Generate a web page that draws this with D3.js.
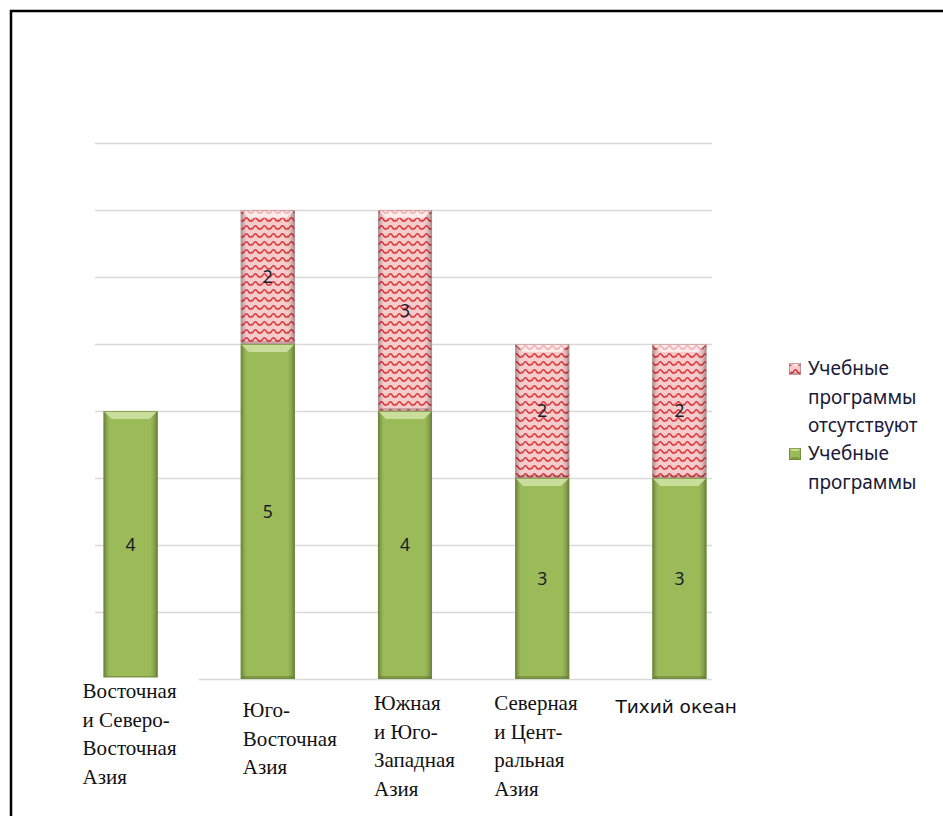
<!DOCTYPE html>
<html>
<head>
<meta charset="utf-8">
<script src="https://cdn.jsdelivr.net/npm/d3@7"></script>
<style>
  html, body { margin: 0; padding: 0; background: #fff; }
  svg { display: block; }
  .serif { font-family: "Liberation Serif", "DejaVu Serif", "Noto Serif", serif; }
  .sans-cat { font-family: "DejaVu Sans", Verdana, sans-serif; }
  .calib { font-family: "Noto Sans", "Open Sans", sans-serif; }
</style>
</head>
<body>
<script>
// Regions and the number of programmes per region
const categories = [
  "Восточная и Северо-Восточная Азия",
  "Юго-Восточная Азия",
  "Южная и Юго-Западная Азия",
  "Северная и Центральная Азия",
  "Тихий океан"
];
const categoryLines = [
  ["Восточная", "и Северо-", "Восточная", "Азия"],
  ["Юго-", "Восточная", "Азия"],
  ["Южная", "и Юго-", "Западная", "Азия"],
  ["Северная", "и Цент-", "ральная", "Азия"],
  ["Тихий океан"]
];
const withPrograms = [4, 5, 4, 3, 3];
const withoutPrograms = [0, 2, 3, 2, 2];
const legendLines = [["Учебные", "программы", "отсутствуют"], ["Учебные", "программы"]];
const yTicks = [0, 1, 2, 3, 4, 5, 6, 7, 8];

const W = 943, H = 816;
const svg = d3.select("body").append("svg").attr("width", W).attr("height", H);
const defs = svg.append("defs");

// Wavy red hatch for the "absent" series
const pat = defs.append("pattern")
  .attr("id", "wave").attr("patternUnits", "userSpaceOnUse")
  .attr("width", 9).attr("height", 8);
pat.append("rect").attr("width", 9).attr("height", 8).attr("fill", "#f4cccc");
pat.append("path")
  .attr("d", "M-0.5,5.2 C1.2,5.2 1.6,1.8 3.4,1.8 C5.2,1.8 5.6,5.2 7.4,5.2 C8.6,5.2 9,4.2 9.5,3.4")
  .attr("fill", "none").attr("stroke", "#de2d33").attr("stroke-width", 1.4);

// Bevel shading across the bar width
const sideGrad = defs.append("linearGradient").attr("id", "side")
  .attr("x1", 0).attr("x2", 1).attr("y1", 0).attr("y2", 0);
[[0, "#000", 0.32], [0.07, "#000", 0.08], [0.14, "#fff", 0.0], [0.86, "#000", 0.0], [0.93, "#000", 0.1], [1, "#000", 0.35]]
  .forEach(([o, c, a]) => sideGrad.append("stop").attr("offset", o).attr("stop-color", c).attr("stop-opacity", a));

const x = d3.scaleBand().domain(categories).range([62, 748])
  .paddingInner(0.606).paddingOuter(0.303);
const y = d3.scaleLinear().domain([0, 8]).range([679, 143]);

// Horizontal gridlines
const gridX0 = 95, gridX1 = 712;
svg.append("g").selectAll("line").data(yTicks).join("line")
  .attr("x1", gridX0).attr("x2", gridX1)
  .attr("y1", d => Math.round(y(d)) + 0.5).attr("y2", d => Math.round(y(d)) + 0.5)
  .attr("stroke", "#d9d9d9").attr("stroke-width", 1.6);

// Stacked segments
const stack = d3.stack().keys(["with", "without"])(
  categories.map((c, i) => ({ cat: c, with: withPrograms[i], without: withoutPrograms[i] }))
);
const fills = { with: "#9bbb59", without: "url(#wave)" };
const edge = { with: "#6f8a35", without: "#c09090" };

function drawBar(g, x0, y0, w, h, key) {
  if (h <= 0) return;
  g.append("rect").attr("x", x0).attr("y", y0).attr("width", w).attr("height", h)
    .attr("fill", fills[key]);
  g.append("rect").attr("x", x0).attr("y", y0).attr("width", w).attr("height", h)
    .attr("fill", "url(#side)");
  const b = Math.min(8, h / 4);
  // top bevel highlight
  g.append("path")
    .attr("d", `M${x0},${y0}L${x0 + w},${y0}L${x0 + w - b},${y0 + b}L${x0 + b},${y0 + b}Z`)
    .attr("fill", key === "with" ? "#cfe2a3" : "#ffffff").attr("opacity", key === "with" ? 0.9 : 0.6);
  // bottom bevel shade
  g.append("path")
    .attr("d", `M${x0},${y0 + h}L${x0 + w},${y0 + h}L${x0 + w - 3},${y0 + h - 3}L${x0 + 3},${y0 + h - 3}Z`)
    .attr("fill", "#000").attr("opacity", 0.18);
  g.append("rect").attr("x", x0 + 0.5).attr("y", y0 + 0.5).attr("width", w - 1).attr("height", h - 1)
    .attr("fill", "none").attr("stroke", edge[key]).attr("stroke-width", 1).attr("opacity", 0.7);
}

const barsG = svg.append("g");
stack.forEach(layer => {
  layer.forEach(d => {
    const x0 = x(d.data.cat), w = x.bandwidth();
    const yt = y(d[1]), yb = y(d[0]);
    drawBar(barsG, x0, yt, w, yb - yt, layer.key);
  });
});

// Value labels centred in each segment
const valG = svg.append("g").attr("class", "calib")
  .attr("font-size", 17.5)
  .attr("fill", "#1a1a2a").attr("text-anchor", "middle");
stack.forEach(layer => {
  layer.forEach(d => {
    const v = d[1] - d[0];
    if (v <= 0) return;
    valG.append("text")
      .attr("x", x(d.data.cat) + x.bandwidth() / 2)
      .attr("y", (y(d[0]) + y(d[1])) / 2)
      .attr("dy", "0.36em").text(v);
  });
});

// Category labels below the bars
const labelPlace = [
  { dx: -48, y: 698, serif: true, box: true },
  { dx: -25, y: 717, serif: true },
  { dx: -31, y: 710, serif: true },
  { dx: -48, y: 710, serif: true },
  { dx: -64, y: 713, serif: false }
];
const catG = svg.append("g");
categories.forEach((c, i) => {
  const p = labelPlace[i];
  const lx = x(c) + x.bandwidth() / 2 + p.dx;
  if (p.box) {
    catG.append("rect").attr("x", lx - 8).attr("y", 677.5).attr("width", 124).attr("height", 125)
      .attr("fill", "#fff");
  }
  const t = catG.append("text")
    .attr("class", p.serif ? "serif" : "sans-cat")
    .attr("font-size", p.serif ? 21 : 18.5)
    .attr("fill", "#111");
  categoryLines[i].forEach((ln, j) => {
    t.append("tspan").attr("x", lx).attr("y", p.y + j * 28.5).text(ln);
  });
});

// Legend
const legend = svg.append("g").attr("class", "calib")
  .attr("font-size", 19)
  .attr("fill", "#1a1a3a");
const legendItems = [
  { key: "without", lines: legendLines[0], y: 375 },
  { key: "with", lines: legendLines[1], y: 460 }
];
legendItems.forEach(it => {
  drawBar(legend, 789, it.y - 12, 12, 12, it.key);
  const t = legend.append("text");
  it.lines.forEach((ln, j) => t.append("tspan").attr("x", 808).attr("y", it.y + j * 28.5).text(ln));
});

// Frame
svg.append("path")
  .attr("d", `M11,${H}L11,11L${W},11`)
  .attr("fill", "none").attr("stroke", "#000").attr("stroke-width", 2.5);
</script>
</body>
</html>
